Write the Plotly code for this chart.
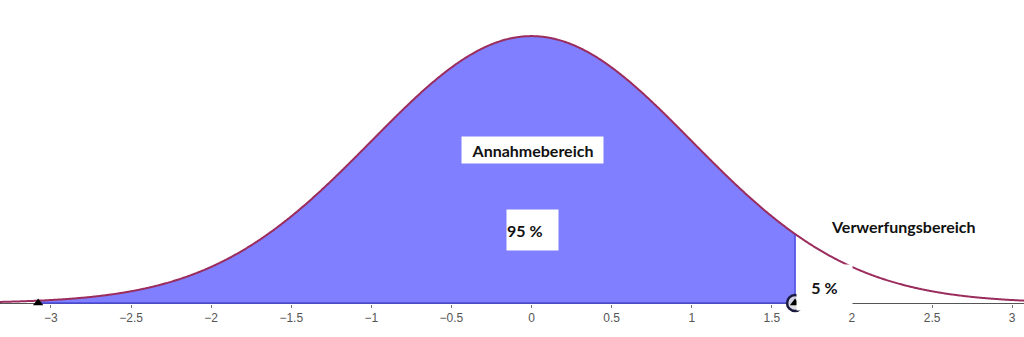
import numpy as np
import plotly.graph_objects as go

# Distribution parameters (standard normal)
mu = 0.0
sigma = 1.0
x_left = -3.08      # left end of shaded acceptance region (point A)
x_crit = 1.645      # critical value (point B)
x_min, x_max = -3.318, 3.074

tick_vals = [-3, -2.5, -2, -1.5, -1, -0.5, 0, 0.5, 1, 1.5, 2, 2.5, 3]
tick_text = ["−3", "−2.5", "−2", "−1.5", "−1", "−0.5", "0", "0.5", "1", "1.5", "2", "2.5", "3"]

label_accept = "Annahmebereich"
label_accept_pct = "95 %"
label_reject = "Verwerfungsbereich"
label_reject_pct = "5 %"


def pdf(x):
    return np.exp(-0.5 * ((x - mu) / sigma) ** 2) / (sigma * np.sqrt(2 * np.pi))


xs = np.linspace(x_min, x_max, 1200)
ys = pdf(xs)

xf = np.linspace(x_left, x_crit, 800)
yf = pdf(xf)

curve_col = "#9b2c5e"
fill_col = "#7f7fff"
edge_col = "#4a4ae0"

fig = go.Figure()

# shaded acceptance region
fig.add_trace(go.Scatter(
    x=np.concatenate([xf, [x_crit, x_left]]),
    y=np.concatenate([yf, [0, 0]]),
    fill="toself", fillcolor=fill_col, line=dict(width=0, simplify=False),
    mode="lines", hoverinfo="skip", showlegend=False))

# bottom and right edge of region
fig.add_trace(go.Scatter(
    x=[x_left, x_crit, x_crit], y=[0, 0, pdf(x_crit)],
    mode="lines", line=dict(color=edge_col, width=1.5),
    hoverinfo="skip", showlegend=False))

# density curve
fig.add_trace(go.Scatter(
    x=xs, y=ys, mode="lines", line=dict(color=curve_col, width=2, simplify=False),
    hoverinfo="skip", showlegend=False))

# points
fig.add_trace(go.Scatter(
    x=[x_crit], y=[0], mode="markers",
    marker=dict(symbol="circle", size=16, color="rgba(220,220,225,0.9)",
                line=dict(color="#1a1a40", width=2.5)),
    cliponaxis=False, hoverinfo="skip", showlegend=False))
fig.add_trace(go.Scatter(
    x=[x_left, x_crit], y=[0, 0], mode="markers",
    marker=dict(symbol="triangle-up", size=9, color="black"),
    cliponaxis=False, hoverinfo="skip", showlegend=False))

k = 669.0  # px per density unit
ymax = 303 / k
ymin = -1 / k

font_lbl = dict(family="Lato, Open Sans, sans-serif", size=16, color="#111111", weight="bold")

fig.add_annotation(x=0.005, y=153 / k, text=label_accept, showarrow=False,
                   bgcolor="white", width=141, height=26, borderpad=0,
                   font=font_lbl, xanchor="center", yanchor="middle")
fig.add_annotation(x=0.005, y=73 / k, text=label_accept_pct, showarrow=False,
                   bgcolor="white", width=51, height=40, borderpad=0, align="left",
                   font=font_lbl, xanchor="center", yanchor="middle")
fig.add_annotation(x=2.322, y=77 / k, text=label_reject, showarrow=False,
                   font=font_lbl, xanchor="center", yanchor="middle")
fig.add_annotation(x=1.829, y=15.5 / k, text=label_reject_pct, showarrow=False,
                   bgcolor="white", width=55, height=45, borderpad=0,
                   font=font_lbl, xanchor="center", yanchor="middle")

fig.update_layout(
    width=1024, height=337,
    margin=dict(l=0, r=0, t=0, b=33),
    paper_bgcolor="white", plot_bgcolor="white",
    xaxis=dict(range=[x_min, x_max], tickvals=tick_vals, ticktext=tick_text,
               showgrid=False, zeroline=False, showline=False,
               ticks="outside", ticklen=3, tickcolor="#777777",
               tickfont=dict(family="Liberation Sans, Arial, sans-serif", size=12, color="#555555")),
    yaxis=dict(range=[ymin, ymax], showgrid=False, showticklabels=False,
               zeroline=True, zerolinecolor="#555555", zerolinewidth=1,
               showline=False, ticks=""),
)

fig.write_html("out.html")
